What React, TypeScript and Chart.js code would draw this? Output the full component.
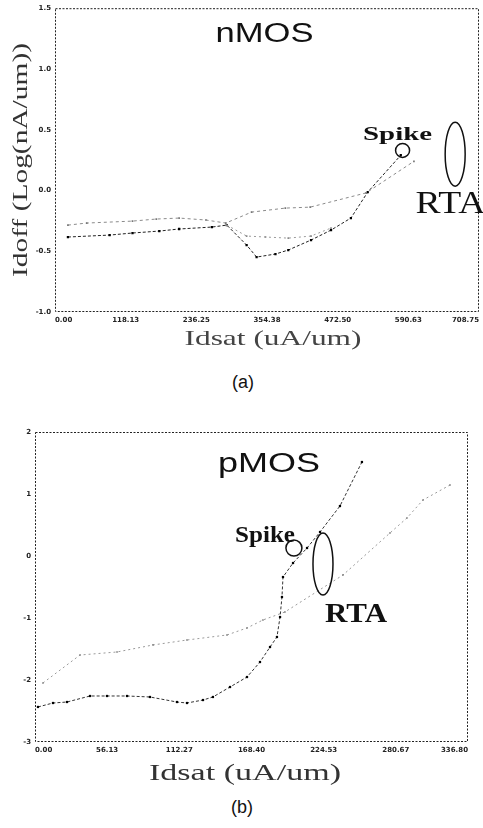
import React, { useEffect, useRef } from "react";
import { Chart, registerables } from "chart.js";
Chart.register(...registerables);

// ---------- nMOS (a) ----------
const N_X_TICKS = [0, 118.13, 236.25, 354.38, 472.5, 590.63, 708.75];
const N_Y_TICKS = [-1.0, -0.5, 0.0, 0.5, 1.0, 1.5];
const N_S1_X = [21.6, 91.3, 129.5, 174.3, 207.5, 262.3, 287.2, 320.3, 337, 368.5, 390, 428, 461.4, 494.6, 522.8, 578];
const N_S1_Y = [-0.383, -0.367, -0.35, -0.334, -0.317, -0.301, -0.285, -0.449, -0.548, -0.523, -0.49, -0.408, -0.326, -0.227, -0.013, 0.29];
const N_S2_X = [21.6, 53.1, 129.5, 169.3, 207.5, 252.3, 285.5, 328.6, 385, 426.6, 520, 600];
const N_S2_Y = [-0.285, -0.268, -0.252, -0.235, -0.227, -0.243, -0.268, -0.178, -0.145, -0.137, -0.02, 0.24];
const N_S3_X = [287.2, 320.3, 351.9, 390, 428, 461.4];
const N_S3_Y = [-0.285, -0.375, -0.383, -0.392, -0.375, -0.309];

// ---------- pMOS (b) ----------
const P_X_TICKS = [0, 56.13, 112.27, 168.4, 224.53, 280.67, 336.8];
const P_Y_TICKS = [-3, -2, -1, 0, 1, 2];
const P_S1_X = [2.3, 14.0, 24.9, 42.8, 56.0, 71.6, 89.4, 110.4, 118.2, 130.7, 138.4, 151.7, 164.9, 175.0, 182.8, 188.2, 190.6, 192.1, 192.9, 200.7, 211.6, 221.7, 237.2, 254.3];
const P_S1_Y = [-2.435, -2.371, -2.355, -2.258, -2.258, -2.258, -2.274, -2.355, -2.371, -2.323, -2.274, -2.113, -1.952, -1.71, -1.468, -1.306, -0.984, -0.661, -0.339, -0.113, 0.129, 0.387, 0.806, 1.516];
const P_S2_X = [6.2, 35.0, 63.8, 91.8, 118.2, 149.3, 164.9, 177.3, 194.4, 239.6, 276.1, 289.3, 301.8, 322.8];
const P_S2_Y = [-2.048, -1.597, -1.548, -1.435, -1.355, -1.274, -1.161, -1.032, -0.903, -0.306, 0.371, 0.613, 0.903, 1.145];

const X_TITLE = "Idsat (uA/um)";
const N_Y_TITLE = "Idoff (Log(nA/um))";

type Note =
  | { kind: "text"; text: string; x: number; y: number; font: string; width: number; align: CanvasTextAlign; color: string }
  | { kind: "ellipse"; x: number; y: number; rx: number; ry: number; lw: number };

function drawStretched(ctx: CanvasRenderingContext2D, text: string, x: number, y: number, font: string, width: number, align: CanvasTextAlign, color: string, rot = 0) {
  ctx.save();
  ctx.font = font;
  ctx.fillStyle = color;
  ctx.textBaseline = "alphabetic";
  ctx.textAlign = align;
  const m = ctx.measureText(text).width || 1;
  ctx.translate(x, y);
  if (rot) ctx.rotate(rot);
  ctx.scale(width / m, 1);
  ctx.fillText(text, 0, 0);
  ctx.restore();
}

function makePlugin(notes: Note[], titles: { text: string; cx: number; cy: number; font: string; width: number; rot: number; color: string }[]) {
  return {
    id: "notes",
    beforeDatasetsDraw(chart: any) {
      const { ctx, chartArea: a } = chart;
      ctx.save();
      ctx.strokeStyle = "#222";
      ctx.lineWidth = 1;
      ctx.setLineDash([2, 1.5]);
      ctx.strokeRect(a.left + 0.5, a.top + 0.5, a.right - a.left - 1, a.bottom - a.top - 1);
      ctx.restore();
    },
    afterDraw(chart: any) {
      const { ctx } = chart;
      const xs = chart.scales.x;
      const ys = chart.scales.y;
      for (const n of notes) {
        const px = xs.getPixelForValue(n.x);
        const py = ys.getPixelForValue(n.y);
        if (n.kind === "text") {
          drawStretched(ctx, n.text, px, py, n.font, n.width, n.align, n.color);
        } else {
          ctx.save();
          ctx.strokeStyle = "#111";
          ctx.lineWidth = n.lw;
          ctx.beginPath();
          ctx.ellipse(px, py, n.rx, n.ry, 0, 0, Math.PI * 2);
          ctx.stroke();
          ctx.restore();
        }
      }
      for (const t of titles) {
        drawStretched(ctx, t.text, t.cx, t.cy, t.font, t.width, "center", t.color, t.rot);
      }
    },
  };
}

function pts(xs: number[], ys: number[]) {
  return xs.map((x, i) => ({ x, y: ys[i] }));
}

function axes(xmin: number, xmax: number, xticks: number[], ymin: number, ymax: number, yticks: number[], yw: number, xh: number, ydec: number) {
  const tickFont = { size: 7, weight: "bold" as const, family: "DejaVu Sans" };
  return {
    x: {
      type: "linear" as const,
      min: xmin,
      max: xmax,
      afterBuildTicks: (s: any) => {
        s.ticks = xticks.map((v) => ({ value: v }));
      },
      afterFit: (s: any) => {
        s.height = xh;
      },
      ticks: { align: "inner" as const, padding: 4, font: tickFont, color: "#222", maxRotation: 0, autoSkip: false, callback: (v: any) => Number(v).toFixed(2) },
      grid: { display: false, drawTicks: false },
      border: { display: false },
    },
    y: {
      type: "linear" as const,
      min: ymin,
      max: ymax,
      afterBuildTicks: (s: any) => {
        s.ticks = yticks.map((v) => ({ value: v }));
      },
      afterFit: (s: any) => {
        s.width = yw;
      },
      ticks: { padding: 4, font: tickFont, color: "#222", autoSkip: false, callback: (v: any) => Number(v).toFixed(ydec) },
      grid: { display: false, drawTicks: false },
      border: { display: false },
    },
  };
}

function ds(data: any[], color: string, dash: number[], pr: number, pcolor: string) {
  return {
    data,
    showLine: true,
    borderColor: color,
    borderWidth: 1,
    borderDash: dash,
    pointRadius: pr,
    pointStyle: "rect",
    pointBackgroundColor: pcolor,
    pointBorderWidth: 0,
  };
}

export default function App() {
  const c1 = useRef<HTMLCanvasElement>(null);
  const c2 = useRef<HTMLCanvasElement>(null);

  useEffect(() => {
    const serif = `"Liberation Serif", "Times New Roman", serif`;
    const sans = `"Liberation Sans", Arial, sans-serif`;
    const nNotes: Note[] = [
      { kind: "text", text: "nMOS", x: 350.2, y: 1.22, font: `27px ${sans}`, width: 98, align: "center", color: "#111" },
      { kind: "text", text: "Spike", x: 572.6, y: 0.414, font: `bold 19px ${serif}`, width: 69, align: "center", color: "#111" },
      { kind: "ellipse", x: 581, y: 0.33, rx: 7, ry: 7, lw: 1.5 },
      { kind: "ellipse", x: 668.9, y: 0.299, rx: 10, ry: 32, lw: 1.5 },
      { kind: "text", text: "RTA", x: 602.5, y: -0.186, font: `31px ${serif}`, width: 70, align: "left", color: "#111" },
    ];
    const ch1 = new Chart(c1.current!, {
      type: "scatter",
      data: {
        datasets: [
          ds(pts(N_S2_X, N_S2_Y), "#8a8a8a", [3, 3], 1.2, "#777"),
          ds(pts(N_S3_X, N_S3_Y), "#9a9a9a", [2, 3], 1.2, "#888"),
          ds(pts(N_S1_X, N_S1_Y), "#222", [3, 2], 1.6, "#000"),
        ] as any,
      },
      options: {
        responsive: false,
        animation: false,
        layout: { padding: { top: 8, right: 1, left: 0, bottom: 0 } },
        plugins: { legend: { display: false }, tooltip: { enabled: false } },
        scales: axes(0, 708.75, N_X_TICKS, -1.0, 1.5, N_Y_TICKS, 55, 48, 1) as any,
      },
      plugins: [
        makePlugin(nNotes, [
          { text: N_Y_TITLE, cx: 27, cy: 160, font: `22px ${serif}`, width: 234, rot: -Math.PI / 2, color: "#333" },
          { text: X_TITLE, cx: 273, cy: 345, font: `22px ${serif}`, width: 177, rot: 0, color: "#444" },
        ]),
      ],
    });

    const pNotes: Note[] = [
      { kind: "text", text: "pMOS", x: 182, y: 1.355, font: `27px ${sans}`, width: 102, align: "center", color: "#111" },
      { kind: "text", text: "Spike", x: 178.9, y: 0.226, font: `bold 24px ${serif}`, width: 60, align: "center", color: "#111" },
      { kind: "ellipse", x: 201.4, y: 0.129, rx: 8, ry: 8, lw: 1.5 },
      { kind: "ellipse", x: 224, y: -0.129, rx: 10, ry: 31, lw: 1.5 },
      { kind: "text", text: "RTA", x: 225.6, y: -1.065, font: `bold 28px ${serif}`, width: 62, align: "left", color: "#111" },
    ];
    const ch2 = new Chart(c2.current!, {
      type: "scatter",
      data: {
        datasets: [
          ds(pts(P_S2_X, P_S2_Y), "#9a9a9a", [2, 3], 1.2, "#888"),
          ds(pts(P_S1_X, P_S1_Y), "#333", [3, 2], 1.6, "#000"),
        ] as any,
      },
      options: {
        responsive: false,
        animation: false,
        layout: { padding: { top: 32, right: 15, left: 0, bottom: 0 } },
        plugins: { legend: { display: false }, tooltip: { enabled: false } },
        scales: axes(0, 336.8, P_X_TICKS, -3, 2, P_Y_TICKS, 35, 48, 0) as any,
      },
      plugins: [
        makePlugin(pNotes, [
          { text: X_TITLE, cx: 245, cy: 380, font: `24px ${serif}`, width: 192, rot: 0, color: "#333" },
        ]),
      ],
    });
    return () => {
      ch1.destroy();
      ch2.destroy();
    };
  }, []);

  const cap: React.CSSProperties = {
    position: "absolute",
    left: 0,
    width: 486,
    textAlign: "center",
    fontFamily: "Liberation Sans",
    fontSize: 18,
    lineHeight: "22px",
    color: "#111",
  };

  return (
    <div style={{ position: "absolute", left: 0, top: 0, width: 483, height: 828, background: "#fff" }}>
      <canvas ref={c1} width={483} height={360} style={{ position: "absolute", left: 0, top: 0, width: 483, height: 360 }} />
      <div style={{ ...cap, top: 371 }}>(a)</div>
      <canvas ref={c2} width={483} height={390} style={{ position: "absolute", left: 0, top: 400, width: 483, height: 390 }} />
      <div style={{ ...cap, top: 796, width: 484 }}>(b)</div>
    </div>
  );
}
